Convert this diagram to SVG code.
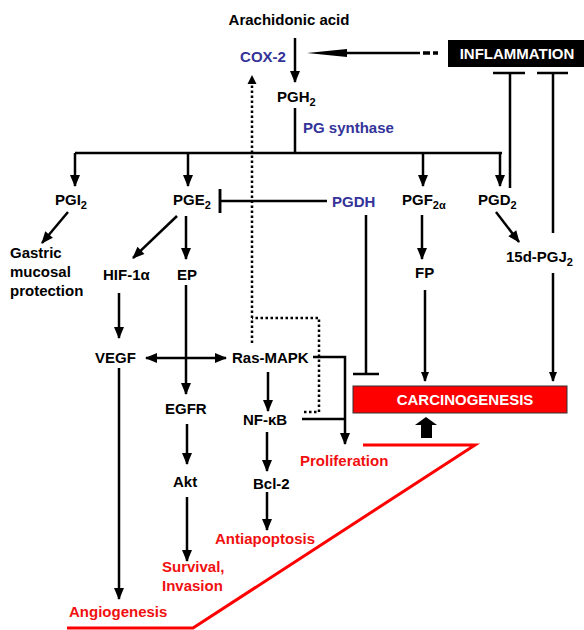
<svg xmlns="http://www.w3.org/2000/svg" width="584" height="630" viewBox="0 0 584 630">
<style>
text{font-family:"Liberation Sans",Arial,sans-serif;font-weight:bold;font-size:15px;fill:#000}
.b{fill:#333399}
.r{fill:#f01010}
.w{fill:#fff}
.sub{font-size:11px}
.ln{stroke:#000;stroke-width:2.5;fill:none}
.ar{stroke:#000;stroke-width:2.5;fill:none;marker-end:url(#ah)}
.dot{stroke:#000;stroke-width:2.5;fill:none;stroke-dasharray:2.5 2.5}
</style>
<defs>
<marker id="ah" markerUnits="userSpaceOnUse" markerWidth="12" markerHeight="10" refX="11" refY="5" orient="auto-start-reverse" overflow="visible">
<path d="M0,0 L12,5 L0,10 z" fill="#000"/>
</marker>
<marker id="ahs" markerUnits="userSpaceOnUse" markerWidth="10" markerHeight="8" refX="9" refY="4" orient="auto" overflow="visible">
<path d="M0,0 L10,4 L0,8 z" fill="#000"/>
</marker>
</defs>
<rect width="584" height="630" fill="#fff"/>

<g id="connectors">
<line class="ar" x1="295" y1="38" x2="295" y2="82"/>
<line class="ln" x1="420" y1="53" x2="340" y2="53" stroke-width="3"/>
<path d="M307,53 L347,49 L347,57 z" fill="#000"/>
<path d="M423,53 H430 M433,53 H438" stroke="#000" stroke-width="3.5"/>
<path class="ln" d="M510,188 V73 M493,73 H525"/>
<path class="ln" d="M553,233 V73 M537,73 H568"/>
<path class="ln" d="M295,108 V153 M75,153 H502"/>
<line class="ar" x1="75" y1="153" x2="75" y2="186"/>
<line class="ar" x1="188" y1="153" x2="188" y2="186"/>
<line class="ar" x1="423" y1="153" x2="423" y2="186"/>
<line class="ar" x1="500" y1="153" x2="500" y2="186"/>
<path class="ln" d="M327,201 H220 M220,189 V213" />
<path class="ln" d="M220,189 V213" stroke-width="4"/>
<path class="ln" d="M366,215 V374 M353,374 H379" />
<line class="ar" x1="68" y1="212" x2="42" y2="243"/>
<line class="ar" x1="177" y1="216" x2="133" y2="258"/>
<line class="ar" x1="186" y1="216" x2="186" y2="259"/>
<line class="ar" x1="422" y1="215" x2="422" y2="259"/>
<line class="ar" x1="496" y1="212" x2="519" y2="242"/>
<line class="ln" x1="425" y1="290" x2="425" y2="381" stroke-width="2" marker-end="url(#ahs)"/>
<line class="ln" x1="553" y1="273" x2="553" y2="381" stroke-width="2" marker-end="url(#ahs)"/>
<line class="ar" x1="119" y1="293" x2="119" y2="338"/>
<line class="ar" x1="146" y1="358" x2="226" y2="358" marker-start="url(#ah)"/>
<line class="ar" x1="186" y1="285" x2="186" y2="394"/>
<line class="ar" x1="268" y1="372" x2="268" y2="411"/>
<path class="ar" d="M313,357 H345 V444"/>
<path class="ln" d="M302,419 H345"/>
<line class="ar" x1="119" y1="368" x2="119" y2="599"/>
<line class="ar" x1="187" y1="424" x2="187" y2="464"/>
<line class="ar" x1="267" y1="432" x2="267" y2="471"/>
<line class="ar" x1="267" y1="492" x2="267" y2="530"/>
<line class="ar" x1="187" y1="497" x2="187" y2="561"/>
<path class="dot" d="M304,412 H319 V318 H252"/>
<path class="dot" d="M252,343 V84"/>
<path d="M252,75 L256.5,84 L247.5,84 z" fill="#000"/>
<polygon points="426,417 437,425 432,425 432,438 421,438 421,425 415,425" fill="#000"/>
<polyline points="363,445 475,445 193,628 67,628" fill="none" stroke="#ff0000" stroke-width="3"/>
</g>

<g id="arachidonic"><text x="289" y="25" text-anchor="middle">Arachidonic acid</text></g>
<g id="cox2"><text class="b" x="263" y="62" text-anchor="middle">COX-2</text></g>
<g id="inflammation"><rect x="448" y="40" width="136" height="27" fill="#000"/><text class="w" x="517" y="59" text-anchor="middle">INFLAMMATION</text></g>
<g id="pgh2"><text x="277" y="102">PGH<tspan class="sub" dy="4">2</tspan></text></g>
<g id="pgsynthase"><text class="b" x="303" y="133">PG synthase</text></g>
<g id="pgi2"><text x="55" y="205">PGI<tspan class="sub" dy="4">2</tspan></text></g>
<g id="pge2"><text x="173" y="205">PGE<tspan class="sub" dy="4">2</tspan></text></g>
<g id="pgdh"><text class="b" x="332" y="207">PGDH</text></g>
<g id="pgf2a"><text x="402" y="205">PGF<tspan class="sub" dy="4">2α</tspan></text></g>
<g id="pgd2"><text x="478" y="205">PGD<tspan class="sub" dy="4">2</tspan></text></g>
<g id="gastric"><text x="10" y="258">Gastric</text><text x="10" y="277">mucosal</text><text x="10" y="296">protection</text></g>
<g id="hif"><text x="103" y="280">HIF-1α</text></g>
<g id="ep"><text x="177" y="280">EP</text></g>
<g id="fp"><text x="415" y="278">FP</text></g>
<g id="pgj2"><text x="506" y="262">15d-PGJ<tspan class="sub" dy="4">2</tspan></text></g>
<g id="vegf"><text x="95" y="363">VEGF</text></g>
<g id="rasmapk"><text x="232" y="363">Ras-MAPK</text></g>
<g id="egfr"><text x="165" y="414">EGFR</text></g>
<g id="nfkb"><text x="243" y="425">NF-κB</text></g>
<g id="carcinogenesis"><rect x="353" y="386" width="214" height="27" fill="#ff0000" stroke="#333" stroke-width="1"/><text class="w" x="465" y="405" text-anchor="middle">CARCINOGENESIS</text></g>
<g id="proliferation"><text class="r" x="300" y="466">Proliferation</text></g>
<g id="akt"><text x="173" y="487">Akt</text></g>
<g id="bcl2"><text x="253" y="489">Bcl-2</text></g>
<g id="antiapoptosis"><text class="r" x="215" y="544">Antiapoptosis</text></g>
<g id="survival"><text class="r" x="162" y="572">Survival,</text><text class="r" x="162" y="591">Invasion</text></g>
<g id="angiogenesis"><text class="r" x="69" y="617">Angiogenesis</text></g>
</svg>
